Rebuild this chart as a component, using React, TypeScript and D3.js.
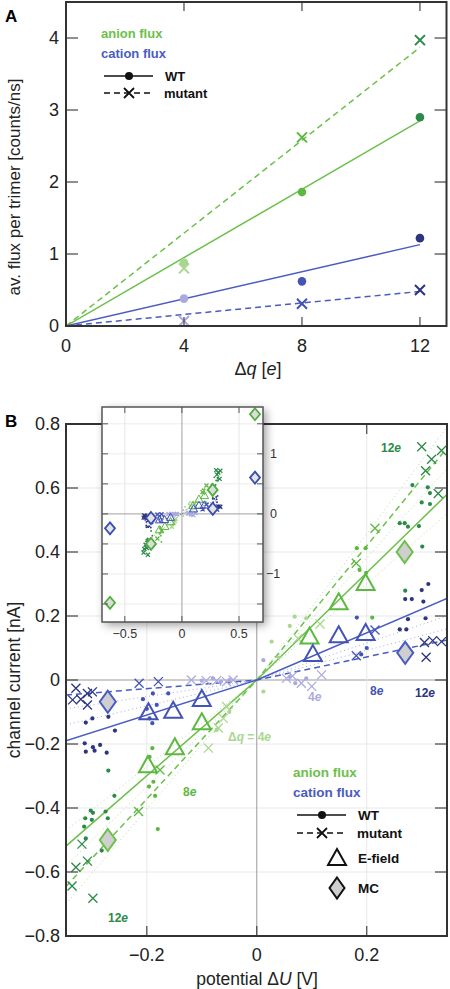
import React from 'react';
import * as d3 from 'd3';

const W = 450, H = 989;
const FONT = '"Liberation Sans", Arial, Helvetica, sans-serif';

// ---------- Panel A data ----------
const qTicks = [0, 4, 8, 12];
const fluxTicks = [0, 1, 2, 3, 4];
const qVals = [4, 8, 12];
const anionWT = [0.88, 1.86, 2.9];
const anionMut = [0.8, 2.62, 3.97];
const cationWT = [0.38, 0.62, 1.22];
const cationMut = [0.07, 0.31, 0.5];
const fitQ = [0, 12];
const anionWTFit = [0, 2.85];
const anionMutFit = [0, 3.87];
const cationWTFit = [0, 1.13];
const cationMutFit = [0, 0.48];

// ---------- Panel B data ----------
const uTicks = [-0.2, 0, 0.2];
const iTicks = [-0.8, -0.6, -0.4, -0.2, 0, 0.2, 0.4, 0.6, 0.8];
const insetUTicks = [-0.5, 0, 0.5];
const insetITicks = [-1, 0, 1];
const insetIGrid = [-1.5, -1, -0.5, 0.5, 1, 1.5];

type P = [number, number];
const anionWT12: P[] = [[0.283,0.609],[0.311,0.602],[0.315,0.584],[0.3,0.555],[0.315,0.55],[0.26,0.49],[0.269,0.49],[0.275,0.479],[0.295,0.481],[0.301,0.417],[0.27,0.279],
  [-0.27,-0.283],[-0.259,-0.362],[-0.302,-0.408],[-0.298,-0.415],[-0.275,-0.411],[-0.312,-0.432],[-0.3,-0.437],[-0.271,-0.432],[-0.314,-0.458],[-0.311,-0.495],[-0.282,-0.533]];
const anionWT8: P[] = [[0.182,0.412],[0.198,0.412],[0.187,0.344],[0.199,0.335],[0.21,0.195],[-0.188,-0.318],[-0.196,-0.333],[-0.185,-0.362],[-0.18,-0.466],[-0.19,-0.213],[-0.195,-0.24]];
const anionWT4: P[] = [[0.06,0.169],[0.069,0.198],[0.09,0.193],[0.027,0.12],[0.012,-0.036],[-0.073,-0.156],[-0.05,-0.1],[0.04,0.07]];
const anionMut12: P[] = [[0.3,0.729],[0.336,0.717],[0.318,0.69],[0.307,0.654],[0.33,0.583],[-0.318,-0.513],[-0.308,-0.566],[-0.329,-0.585],[-0.336,-0.644],[-0.298,-0.682]];
const anionMut8: P[] = [[0.215,0.474],[0.181,0.365],[-0.215,-0.411],[-0.176,-0.281]];
const anionMut4: P[] = [[0.115,0.175],[0.075,0.13],[-0.088,-0.213],[-0.061,-0.12],[-0.055,-0.083],[-0.07,-0.15]];
const cationWT12: P[] = [[0.312,0.3],[0.3,0.281],[0.27,0.253],[0.282,0.253],[0.303,0.245],[0.275,0.19],[0.307,0.193],[0.26,0.158],[0.272,0.158],
  [-0.311,-0.133],[-0.299,-0.12],[-0.313,-0.198],[-0.298,-0.21],[-0.285,-0.203],[-0.311,-0.224],[-0.295,-0.221],[-0.273,-0.227],[-0.258,-0.158],[-0.27,-0.115]];
const cationWT8: P[] = [[0.182,0.195],[0.2,0.1],[0.19,0.08],[-0.207,-0.06],[-0.189,-0.042],[-0.182,-0.078],[-0.161,-0.042],[-0.2,-0.09],[-0.195,-0.12],[-0.19,-0.135]];
const cationWT4: P[] = [[0.012,0.062],[-0.1,-0.002],[-0.08,0.005],[-0.065,-0.005],[-0.05,0],[0.06,0.01],[0.07,-0.01],[0.09,0.005]];
const cationMut12: P[] = [[0.305,0.117],[0.32,0.123],[0.336,0.12],[0.308,0.071],[-0.329,-0.026],[-0.308,-0.042],[-0.299,-0.037],[-0.335,-0.062],[-0.32,-0.06],[-0.308,-0.078]];
const cationMut8: P[] = [[0.181,0.076],[0.215,0.156],[-0.214,-0.01],[-0.179,-0.005]];
const cationMut4: P[] = [[-0.119,0],[-0.092,-0.002],[-0.073,-0.002],[-0.055,-0.005],[-0.043,0],[0.054,0.005],[0.081,-0.01],[0.118,0.016],[0.065,0.012],[0.1,-0.02]];
const anionEfield: P[] = [[0.096,0.133],[0.149,0.24],[0.198,0.3],[-0.1,-0.135],[-0.149,-0.213],[-0.198,-0.269]];
const cationEfield: P[] = [[0.102,0.078],[0.149,0.137],[0.198,0.144],[-0.1,-0.062],[-0.152,-0.099],[-0.197,-0.104]];
const anionMC: P[] = [[0.269,0.4],[-0.271,-0.5]];
const cationMC: P[] = [[0.27,0.085],[-0.271,-0.068]];
const anionMCWide: P[] = [[0.64,1.66],[-0.63,-1.48]];
const cationMCWide: P[] = [[0.64,0.605],[-0.63,-0.24]];

const anionWTLine: P[] = [[-0.347,-0.519],[0,0],[0.346,0.58]];
const anionMutLine: P[] = [[-0.347,-0.645],[0,0],[0.346,0.725]];
const anionDotted: P[][] = [
  [[-0.347,-0.47],[0,0],[0.346,0.79]],
  [[-0.347,-0.58],[0,0],[0.346,0.66]],
  [[-0.347,-0.7],[0,0],[0.346,0.52]],
];
const cationWTLine: P[] = [[-0.347,-0.19],[0,0],[0.346,0.255]];
const cationMutLine: P[] = [[-0.347,-0.047],[0,0],[0.346,0.125]];
const cationDotted: P[][] = [
  [[-0.347,-0.14],[0,0],[0.346,0.2]],
  [[-0.347,-0.09],[0,0],[0.346,0.16]],
];

const G = { 4: '#a9d78e', 8: '#5cb840', 12: '#2b8a48' } as Record<number, string>;
const B = { 4: '#aaaadf', 8: '#4354b4', 12: '#2c357f' } as Record<number, string>;
const GL = '#6cc04a';
const BL = '#4a5cc0';

const crossPath = (x: number, y: number, s: number) => `M${x-s},${y-s}L${x+s},${y+s}M${x-s},${y+s}L${x+s},${y-s}`;
const triPath = (x: number, y: number, w: number, h: number) => `M${x},${y-h*0.62}L${x+w/2},${y+h*0.38}L${x-w/2},${y+h*0.38}Z`;
const diaPath = (x: number, y: number, w: number, h: number) => `M${x},${y-h/2}L${x+w/2},${y}L${x},${y+h/2}L${x-w/2},${y}Z`;
const fmt = (t: number) => (t === 0 ? '0' : d3.format('.1f')(t).replace('-', '−'));

export default function App() {
  const xA = d3.scaleLinear().domain([0, 12.9]).range([66, 446.5]);
  const yA = d3.scaleLinear().domain([0, 4.5]).range([326, 2]);
  const xB = d3.scaleLinear().domain([-0.347, 0.346]).range([66, 447]);
  const yB = d3.scaleLinear().domain([-0.8, 0.8]).range([936, 424]);
  const xI = d3.scaleLinear().domain([-0.7, 0.71]).range([102, 263]);
  const yI = d3.scaleLinear().domain([-1.8, 1.78]).range([622, 407]);

  const lineA = (ys: number[]) => d3.line<number>().x((_, i) => xA(fitQ[i])).y((d) => yA(d))(ys) as string;
  const lineB = d3.line<P>().x((d) => xB(d[0])).y((d) => yB(d[1]));
  const lineI = d3.line<P>().x((d) => xI(d[0])).y((d) => yI(d[1]));

  const dots = (pts: P[], color: string, sx: any, sy: any, r: number, key: string) =>
    pts.map((d, i) => <circle key={key + i} cx={sx(d[0])} cy={sy(d[1])} r={r} fill={color} />);
  const crosses = (pts: P[], color: string, sx: any, sy: any, s: number, sw: number, key: string) =>
    pts.map((d, i) => <path key={key + i} d={crossPath(sx(d[0]), sy(d[1]), s)} stroke={color} strokeWidth={sw} fill="none" />);
  const tris = (pts: P[], color: string, sx: any, sy: any, w: number, h: number, sw: number, key: string) =>
    pts.map((d, i) => <path key={key + i} d={triPath(sx(d[0]), sy(d[1]), w, h)} stroke={color} strokeWidth={sw} fill="none" />);
  const dias = (pts: P[], color: string, sx: any, sy: any, w: number, h: number, sw: number, fill: string, key: string) =>
    pts.map((d, i) => <path key={key + i} d={diaPath(sx(d[0]), sy(d[1]), w, h)} stroke={color} strokeWidth={sw} fill={fill} />);

  const scatterB = (sx: any, sy: any, sc: number, pre: string) => (
    <g>
      {dots(cationWT4, B[4], sx, sy, 2.1 * sc, pre + 'cw4')}
      {crosses(cationMut4, B[4], sx, sy, 4.5 * sc, 1.3, pre + 'cm4')}
      {dots(anionWT4, G[4], sx, sy, 2.1 * sc, pre + 'aw4')}
      {crosses(anionMut4, G[4], sx, sy, 4.5 * sc, 1.3, pre + 'am4')}
      {dots(cationWT8, B[8], sx, sy, 2.1 * sc, pre + 'cw8')}
      {crosses(cationMut8, B[8], sx, sy, 4.5 * sc, 1.3, pre + 'cm8')}
      {dots(anionWT8, G[8], sx, sy, 2.1 * sc, pre + 'aw8')}
      {crosses(anionMut8, G[8], sx, sy, 4.5 * sc, 1.3, pre + 'am8')}
      {dots(cationWT12, B[12], sx, sy, 2.1 * sc, pre + 'cw12')}
      {crosses(cationMut12, B[12], sx, sy, 4.5 * sc, 1.3, pre + 'cm12')}
      {dots(anionWT12, G[12], sx, sy, 2.1 * sc, pre + 'aw12')}
      {crosses(anionMut12, G[12], sx, sy, 4.5 * sc, 1.3, pre + 'am12')}
      {tris(anionEfield, G[8], sx, sy, 18 * sc, 16 * sc, sc < 1 ? 1 : 2, pre + 'te')}
      {tris(cationEfield, B[8], sx, sy, 18 * sc, 16 * sc, sc < 1 ? 1 : 2, pre + 'tc')}
    </g>
  );

  const tickLen = 12;

  return (
    <svg width={W} height={H} style={{ position: 'absolute', left: 0, top: 0, background: '#fff' }} fontFamily={FONT}>
      <defs>
        <clipPath id="clipB"><rect x={66} y={424} width={381} height={512} /></clipPath>
        <clipPath id="clipA"><rect x={66} y={2} width={380.5} height={324} /></clipPath>
        <clipPath id="clipI"><rect x={102} y={407} width={161} height={215} /></clipPath>
        <filter id="shadow" x="-20%" y="-20%" width="140%" height="140%">
          <feDropShadow dx={3} dy={3} stdDeviation={5} floodColor="#000" floodOpacity={0.4} />
        </filter>
      </defs>
      <rect x={0} y={0} width={W} height={H} fill="#fff" />

      {/* ================= Panel A ================= */}
      <text x={5} y={22} fontSize={17} fontWeight="bold">A</text>
      <g clipPath="url(#clipA)">
        <path d={lineA(anionMutFit)} stroke={GL} strokeWidth={1.5} strokeDasharray="6,4" fill="none" />
        <path d={lineA(anionWTFit)} stroke={GL} strokeWidth={1.5} fill="none" />
        <path d={lineA(cationMutFit)} stroke={BL} strokeWidth={1.5} strokeDasharray="6,4" fill="none" />
        <path d={lineA(cationWTFit)} stroke={BL} strokeWidth={1.5} fill="none" />
        {qVals.map((q, i) => (
          <g key={'a' + q}>
            <circle cx={xA(q)} cy={yA(anionWT[i])} r={4.3} fill={G[q]} />
            <path d={crossPath(xA(q), yA(anionMut[i]), 5)} stroke={G[q]} strokeWidth={2} />
            <circle cx={xA(q)} cy={yA(cationWT[i])} r={4.3} fill={B[q]} />
            <path d={crossPath(xA(q), yA(cationMut[i]), 5)} stroke={B[q]} strokeWidth={2} />
          </g>
        ))}
      </g>
      {fluxTicks.map((t) => (
        <g key={'fa' + t}>
          <line x1={66} x2={66 + tickLen} y1={yA(t)} y2={yA(t)} stroke="#444" strokeWidth={1.2} />
          <line x1={446.5} x2={446.5 - tickLen} y1={yA(t)} y2={yA(t)} stroke="#444" strokeWidth={1.2} />
          <text x={59} y={yA(t)} dy="0.36em" textAnchor="end" fontSize={18} fill="#222">{t}</text>
        </g>
      ))}
      {qTicks.map((t) => (
        <g key={'qa' + t}>
          <line x1={xA(t)} x2={xA(t)} y1={2} y2={2 + 9} stroke="#444" strokeWidth={1.2} />
          <line x1={xA(t)} x2={xA(t)} y1={326} y2={326 - 9} stroke="#444" strokeWidth={1.2} />
          <text x={xA(t)} y={352} textAnchor="middle" fontSize={18} fill="#222">{t}</text>
        </g>
      ))}
      <rect x={66} y={2} width={380.5} height={324} fill="none" stroke="#333" strokeWidth={2} />
      <text x={258} y={375} textAnchor="middle" fontSize={18} fill="#222">Δ<tspan fontStyle="italic">q</tspan> [<tspan fontStyle="italic">e</tspan>]</text>
      <text transform="translate(20,187) rotate(-90)" textAnchor="middle" fontSize={17} fill="#222">av. flux per trimer [counts/ns]</text>
      <g fontSize={13} fontWeight="bold">
        <text x={101} y={38} fill={GL}>anion flux</text>
        <text x={101} y={58} fill={BL}>cation flux</text>
        <line x1={104} x2={153} y1={76} y2={76} stroke="#111" strokeWidth={1.5} />
        <circle cx={129} cy={76} r={4} fill="#111" />
        <text x={165} y={81} fill="#111">WT</text>
        <line x1={104} x2={153} y1={93} y2={93} stroke="#111" strokeWidth={1.5} strokeDasharray="6,4" />
        <path d={crossPath(129, 93, 5)} stroke="#111" strokeWidth={1.8} />
        <text x={164} y={98} fill="#111">mutant</text>
      </g>

      {/* ================= Panel B ================= */}
      <text x={5} y={427} fontSize={17} fontWeight="bold">B</text>
      {iTicks.map((t) => (
        <line key={'gi' + t} x1={66} x2={447} y1={yB(t)} y2={yB(t)} stroke={t === 0 ? '#9a9a9a' : '#e8e8e8'} strokeWidth={1} />
      ))}
      {uTicks.map((t) => (
        <line key={'gu' + t} x1={xB(t)} x2={xB(t)} y1={424} y2={936} stroke={t === 0 ? '#9a9a9a' : '#e8e8e8'} strokeWidth={1} />
      ))}
      <g clipPath="url(#clipB)">
        {anionDotted.map((l, i) => (
          <path key={'ad' + i} d={lineB(l) as string} stroke="#9fd47f" strokeWidth={1} strokeDasharray="1,3" fill="none" opacity={0.8} />
        ))}
        {cationDotted.map((l, i) => (
          <path key={'cd' + i} d={lineB(l) as string} stroke="#8d99d8" strokeWidth={1} strokeDasharray="1,3" fill="none" opacity={0.8} />
        ))}
        <path d={lineB(anionMutLine) as string} stroke={GL} strokeWidth={1.5} strokeDasharray="6,4" fill="none" />
        <path d={lineB(anionWTLine) as string} stroke={GL} strokeWidth={1.5} fill="none" />
        <path d={lineB(cationMutLine) as string} stroke={BL} strokeWidth={1.5} strokeDasharray="6,4" fill="none" />
        <path d={lineB(cationWTLine) as string} stroke={BL} strokeWidth={1.5} fill="none" />
        {scatterB(xB, yB, 1, 'm')}
        {dias(anionMC, GL, xB, yB, 16, 22, 2, '#cfcfcf', 'mda')}
        {dias(cationMC, BL, xB, yB, 16, 22, 2, '#cfcfcf', 'mdc')}
      </g>
      {iTicks.map((t) => (
        <g key={'ti' + t}>
          <line x1={66} x2={66 + tickLen} y1={yB(t)} y2={yB(t)} stroke="#444" strokeWidth={1.2} />
          <line x1={447} x2={447 - tickLen} y1={yB(t)} y2={yB(t)} stroke="#444" strokeWidth={1.2} />
          <text x={60} y={yB(t)} dy="0.36em" textAnchor="end" fontSize={18} fill="#222">{fmt(t)}</text>
        </g>
      ))}
      {uTicks.map((t) => (
        <g key={'tu' + t}>
          <line x1={xB(t)} x2={xB(t)} y1={424} y2={424 + 10} stroke="#444" strokeWidth={1.2} />
          <line x1={xB(t)} x2={xB(t)} y1={936} y2={936 - 10} stroke="#444" strokeWidth={1.2} />
          <text x={xB(t)} y={961} textAnchor="middle" fontSize={18} fill="#222">{fmt(t)}</text>
        </g>
      ))}
      <rect x={66} y={424} width={381} height={512} fill="none" stroke="#333" strokeWidth={2} />
      <text x={257} y={985} textAnchor="middle" fontSize={17.5} fill="#222">potential Δ<tspan fontStyle="italic">U</tspan> [V]</text>
      <text transform="translate(20,680) rotate(-90)" textAnchor="middle" fontSize={17.5} fill="#222">channel current [nA]</text>

      <g fontSize={12} fontWeight="bold">
        <text x={381} y={452} fill={G[12]}>12<tspan fontStyle="italic">e</tspan></text>
        <text x={370} y={695} fill={B[8]}>8<tspan fontStyle="italic">e</tspan></text>
        <text x={415} y={697} fill={B[12]}>12<tspan fontStyle="italic">e</tspan></text>
        <text x={308} y={701} fill={B[4]}>4<tspan fontStyle="italic">e</tspan></text>
        <text x={228} y={741} fill={G[4]}>Δ<tspan fontStyle="italic">q</tspan> = 4<tspan fontStyle="italic">e</tspan></text>
        <text x={183} y={796} fill={G[8]}>8<tspan fontStyle="italic">e</tspan></text>
        <text x={108} y={922} fill={G[12]}>12<tspan fontStyle="italic">e</tspan></text>
      </g>

      <g fontSize={13.5} fontWeight="bold">
        <text x={293} y={777} fill={GL}>anion flux</text>
        <text x={293} y={797} fill={BL}>cation flux</text>
        <line x1={297} x2={346} y1={815} y2={815} stroke="#111" strokeWidth={1.5} />
        <circle cx={322} cy={815} r={4} fill="#111" />
        <text x={358} y={820} fill="#111">WT</text>
        <line x1={297} x2={346} y1={833} y2={833} stroke="#111" strokeWidth={1.5} strokeDasharray="6,4" />
        <path d={crossPath(322, 833, 5)} stroke="#111" strokeWidth={1.8} />
        <text x={357} y={838} fill="#111">mutant</text>
        <path d={triPath(337, 859, 18, 16)} stroke="#111" strokeWidth={2} fill="none" />
        <text x={358} y={863} fill="#111">E-field</text>
        <path d={diaPath(337, 888, 15, 21)} stroke="#111" strokeWidth={2} fill="#cfcfcf" />
        <text x={358} y={893} fill="#111">MC</text>
      </g>

      {/* ================= Inset ================= */}
      <rect x={102} y={407} width={161} height={215} fill="#fff" filter="url(#shadow)" />
      {insetIGrid.map((t) => (
        <line key={'ig' + t} x1={102} x2={263} y1={yI(t)} y2={yI(t)} stroke="#ececec" strokeWidth={1} />
      ))}
      {insetUTicks.map((t) => (
        <line key={'iu' + t} x1={xI(t)} x2={xI(t)} y1={407} y2={622} stroke={t === 0 ? '#a0a0a0' : '#e6e6e6'} strokeWidth={1} />
      ))}
      <line x1={102} x2={263} y1={yI(0)} y2={yI(0)} stroke="#a0a0a0" strokeWidth={1} />
      <g clipPath="url(#clipI)">
        <path d={lineI(anionWTLine.map((d) => [d[0] * 0.9, d[1] * 0.9] as P)) as string} stroke={GL} strokeWidth={0.8} strokeDasharray="1,1.5" fill="none" />
        <path d={lineI(cationWTLine.map((d) => [d[0] * 0.9, d[1] * 0.9] as P)) as string} stroke={BL} strokeWidth={0.8} strokeDasharray="1,1.5" fill="none" />
        {scatterB(xI, yI, 0.45, 'i')}
        {dias(anionMC.concat(anionMCWide), '#4fae3c', xI, yI, 10, 12, 1.8, '#dcdcdc', 'ida')}
        {dias(cationMC.concat(cationMCWide), '#3b4db0', xI, yI, 10, 12, 1.8, '#e4e4e4', 'idc')}
      </g>
      {[-1.5, -1, -0.5, 0, 0.5, 1, 1.5].map((t) => (
        <g key={'it' + t}>
          <line x1={102} x2={102 + 6} y1={yI(t)} y2={yI(t)} stroke="#555" strokeWidth={1} />
          <line x1={263} x2={263 - 6} y1={yI(t)} y2={yI(t)} stroke="#555" strokeWidth={1} />
        </g>
      ))}
      {insetUTicks.map((t) => (
        <g key={'iut' + t}>
          <line x1={xI(t)} x2={xI(t)} y1={407} y2={407 + 6} stroke="#555" strokeWidth={1} />
          <line x1={xI(t)} x2={xI(t)} y1={622} y2={622 - 6} stroke="#555" strokeWidth={1} />
          <text x={xI(t)} y={638} textAnchor="middle" fontSize={12.5} fill="#333">{t === 0 ? '0' : String(t).replace('-', '−')}</text>
        </g>
      ))}
      {insetITicks.map((t) => (
        <text key={'iit' + t} x={t < 0 ? 266 : 270} y={yI(t)} dy="0.36em" fontSize={12.5} fill="#333">{t === 0 ? '0' : String(t).replace('-', '−')}</text>
      ))}
      <rect x={102} y={407} width={161} height={215} fill="none" stroke="#555" strokeWidth={1.5} />
    </svg>
  );
}
